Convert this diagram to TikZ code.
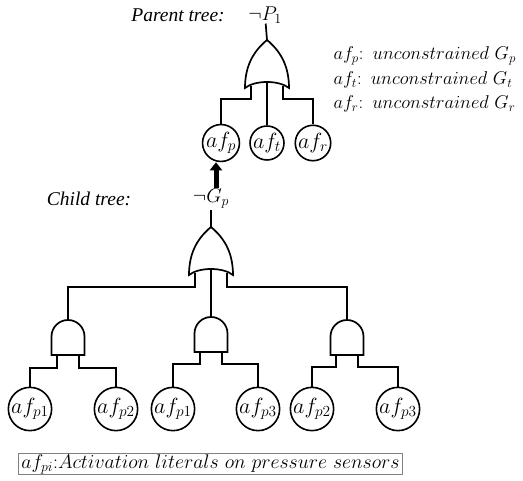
\RequirePackage{fix-cm}
\documentclass[tikz,border=0pt]{standalone}
\usepackage{amsmath, amssymb}
\usepackage{fontspec}
\newfontfamily\tagfont{Liberation Serif}
\usetikzlibrary{arrows.meta}

\begin{document}
\begin{tikzpicture}[x=1pt, y=-1pt,
    font=\fontsize{20}{23}\selectfont,
    wire/.style={line width=1.7pt},
    leaf/.style={circle, draw, line width=1.6pt, minimum size=40pt, inner sep=0pt,
        font=\fontsize{22}{24}\selectfont},
    topleaf/.style={leaf, minimum size=32pt},
    tag/.style={font=\tagfont\itshape\fontsize{19.5}{22}\selectfont},
    key/.style={anchor=west, font=\fontsize{18.5}{22}\selectfont},
    liftarrow/.style={line width=5pt, -{Triangle[length=8pt, width=12pt]}},
    % OR gate, apex at the origin
    orgate/.pic={
        \draw[wire] (0,0) .. controls (-12,10) and (-22,24) .. (-22,48)
            .. controls (-12,40) and (12,40) .. (22,48)
            .. controls (22,24) and (12,10) .. (0,0);
        \coordinate (-out) at (0,0);
        \coordinate (-l) at (-16,46);
        \coordinate (-m) at (0,42);
        \coordinate (-r) at (16,46);
    },
    % AND gate, top of the dome at the origin
    andgate/.pic={
        \draw[wire] (-16.5,35) -- (-16.5,16.5) arc (180:360:16.5) -- (16.5,35) -- cycle;
        \coordinate (-out) at (0,0);
        \coordinate (-l) at (-11,35);
        \coordinate (-r) at (11,35);
    }]
    \useasboundingbox (0,0) rectangle (523,481);

    % Parent tree
    \node[tag] (ptree) at (178,15) {Parent tree:};
    \node[inner sep=0pt] (notP) at (265,15) {$\neg P_1$};
    \pic (pg) at (267,40) {orgate};
    \node[topleaf] (afp) at (221,143) {$af_p$};
    \node[topleaf] (aft) at (267,143) {$af_t$};
    \node[topleaf] (afr) at (313,143) {$af_r$};
    \draw[wire] (pg-out) -- (notP);
    \draw[wire] (pg-l) -- ++(0,13) -| (afp);
    \draw[wire] (pg-m) -- (aft);
    \draw[wire] (pg-r) -- ++(0,13) -| (afr);

    % Meaning of the parent literals
    \node[key] (keyp) at (330,56) {$af_p$:\enspace$unconstrained\ G_p$};
    \node[key] (keyt) at (330,80) {$af_t$:\enspace$unconstrained\ G_t$};
    \node[key] (keyr) at (330,104) {$af_r$:\enspace$unconstrained\ G_r$};

    % Child tree
    \node[tag] (ctree) at (89,199) {Child tree:};
    \node[inner sep=1pt] (notG) at (211,199) {$\neg G_p$};
    \coordinate (lift) at (216,188);
    \draw[liftarrow] (lift) -- (lift |- afp.south);

    \pic (cg) at (211,227) {orgate};
    \pic (and1) at (68,320) {andgate};
    \pic (and2) at (211,317) {andgate};
    \pic (and3) at (347,320) {andgate};
    \draw[wire] (cg-out) -- (notG);
    \draw[wire] (cg-l) -- ++(0,14) -| (and1-out);
    \draw[wire] (cg-m) -- (and2-out);
    \draw[wire] (cg-r) -- ++(0,14) -| (and3-out);

    % Leaves
    \node[leaf] (l1) at (30,409) {$af_{p1}$};
    \node[leaf] (l2) at (116,409) {$af_{p2}$};
    \node[leaf] (l3) at (173,409) {$af_{p1}$};
    \node[leaf] (l4) at (258,409) {$af_{p3}$};
    \node[leaf] (l5) at (312,409) {$af_{p2}$};
    \node[leaf] (l6) at (398,409) {$af_{p3}$};
    \draw[wire] (and1-l) -- ++(0,13) -| (l1);
    \draw[wire] (and1-r) -- ++(0,13) -| (l2);
    \draw[wire] (and2-l) -- ++(0,12) -| (l3);
    \draw[wire] (and2-r) -- ++(0,12) -| (l4);
    \draw[wire] (and3-l) -- ++(0,12) -| (l5);
    \draw[wire] (and3-r) -- ++(0,12) -| (l6);

    % Legend box
    \node[draw=gray, line width=0.9pt, anchor=west, inner xsep=3pt, inner ysep=1pt,
        font=\fontsize{19.8}{22}\selectfont]
        (legend) at (18,464) {$af_{pi}$:$Activation\ literals\ on\ pressure\ sensors$};
\end{tikzpicture}
\end{document}
